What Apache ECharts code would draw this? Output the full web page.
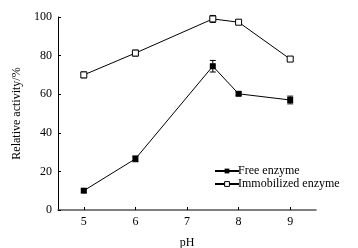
<!DOCTYPE html>
<html>
<head>
<meta charset="utf-8">
<script src="https://cdn.jsdelivr.net/npm/echarts@6/dist/echarts.min.js"></script>
<style>
html,body{margin:0;padding:0;background:#fff;}
#chart{width:358px;height:248px;}
</style>
</head>
<body>
<div id="chart"></div>
<script>
var phValues = [5, 6, 7.5, 8, 9];
var freeVals = [10, 26.5, 74.5, 60.2, 57];
var freeErr = [0.8, 1.5, 3, 0.8, 2];
var immoVals = [70, 81.3, 99, 97.3, 78.2];
var immoErr = [1.5, 1.5, 1.8, 1, 1];
var xTicks = [5, 6, 7, 8, 9];

var chart = echarts.init(document.getElementById('chart'));
var font = 'Liberation Serif';

function pairs(xs, ys){
	return xs.map(function(x, i){ return [x, ys[i]]; });
}
function errData(xs, ys, es){
	return xs.map(function(x, i){ return [x, ys[i] - es[i], ys[i] + es[i]]; });
}
function renderErr(params, api){
	var lo = api.coord([api.value(0), api.value(1)]);
	var hi = api.coord([api.value(0), api.value(2)]);
	var w = 3;
	var st = {stroke: '#000', lineWidth: 1};
	return {
		type: 'group',
		children: [
			{type: 'line', shape: {x1: lo[0], y1: lo[1], x2: hi[0], y2: hi[1]}, style: st},
			{type: 'line', shape: {x1: lo[0]-w, y1: lo[1], x2: lo[0]+w, y2: lo[1]}, style: st},
			{type: 'line', shape: {x1: hi[0]-w, y1: hi[1], x2: hi[0]+w, y2: hi[1]}, style: st}
		]
	};
}

var option = {
	animation: false,
	grid: {left: 58, right: 42, top: 17, bottom: 38, outerBoundsMode: 'none', containLabel: false},
	legend: {
		left: 209,
		top: 160,
		orient: 'vertical',
		itemGap: 1,
		itemWidth: 24,
		itemHeight: 6,
		itemStyle: {borderWidth: 1},
		textStyle: {fontFamily: font, fontSize: 12, color: '#000', padding: [0,0,0,-6]},
		data: ['Free enzyme', 'Immobilized enzyme']
	},
	xAxis: {
		type: 'value',
		min: 4.5,
		max: 9.5,
		name: 'pH',
		nameLocation: 'middle',
		nameGap: 27,
		nameTextStyle: {fontFamily: font, fontSize: 12, color: '#000'},
		axisLine: {lineStyle: {color: '#555', width: 1.5}},
		axisTick: {show: true, inside: true, length: 3, customValues: xTicks, lineStyle: {color: '#000'}},
		axisLabel: {customValues: xTicks, fontFamily: font, fontSize: 12, color: '#000', margin: 6},
		splitLine: {show: false}
	},
	yAxis: {
		type: 'value',
		min: 0,
		max: 100,
		interval: 20,
		name: 'Relative activity/%',
		nameLocation: 'middle',
		nameGap: 27,
		nameTextStyle: {fontFamily: font, fontSize: 12, color: '#000'},
		axisLine: {show: true, lineStyle: {color: '#000', width: 1}},
		axisTick: {show: true, inside: true, length: 3, lineStyle: {color: '#000'}},
		axisLabel: {fontFamily: font, fontSize: 12, color: '#000', margin: 6},
		splitLine: {show: false}
	},
	series: [
		{
			name: 'Free enzyme',
			type: 'line',
			data: pairs(phValues, freeVals),
			symbol: 'rect',
			symbolSize: 6,
			itemStyle: {color: '#000'},
			lineStyle: {color: '#000', width: 1}
		},
		{
			name: 'Immobilized enzyme',
			type: 'line',
			data: pairs(phValues, immoVals),
			symbol: 'rect',
			symbolSize: 6,
			showAllSymbol: true,
			itemStyle: {color: '#fff', borderColor: '#000', borderWidth: 1},
			lineStyle: {color: '#000', width: 1}
		},
		{
			type: 'custom',
			renderItem: renderErr,
			data: errData(phValues, freeVals, freeErr),
			z: 1
		},
		{
			type: 'custom',
			renderItem: renderErr,
			data: errData(phValues, immoVals, immoErr),
			z: 1
		}
	]
};
chart.setOption(option);
</script>
</body>
</html>
